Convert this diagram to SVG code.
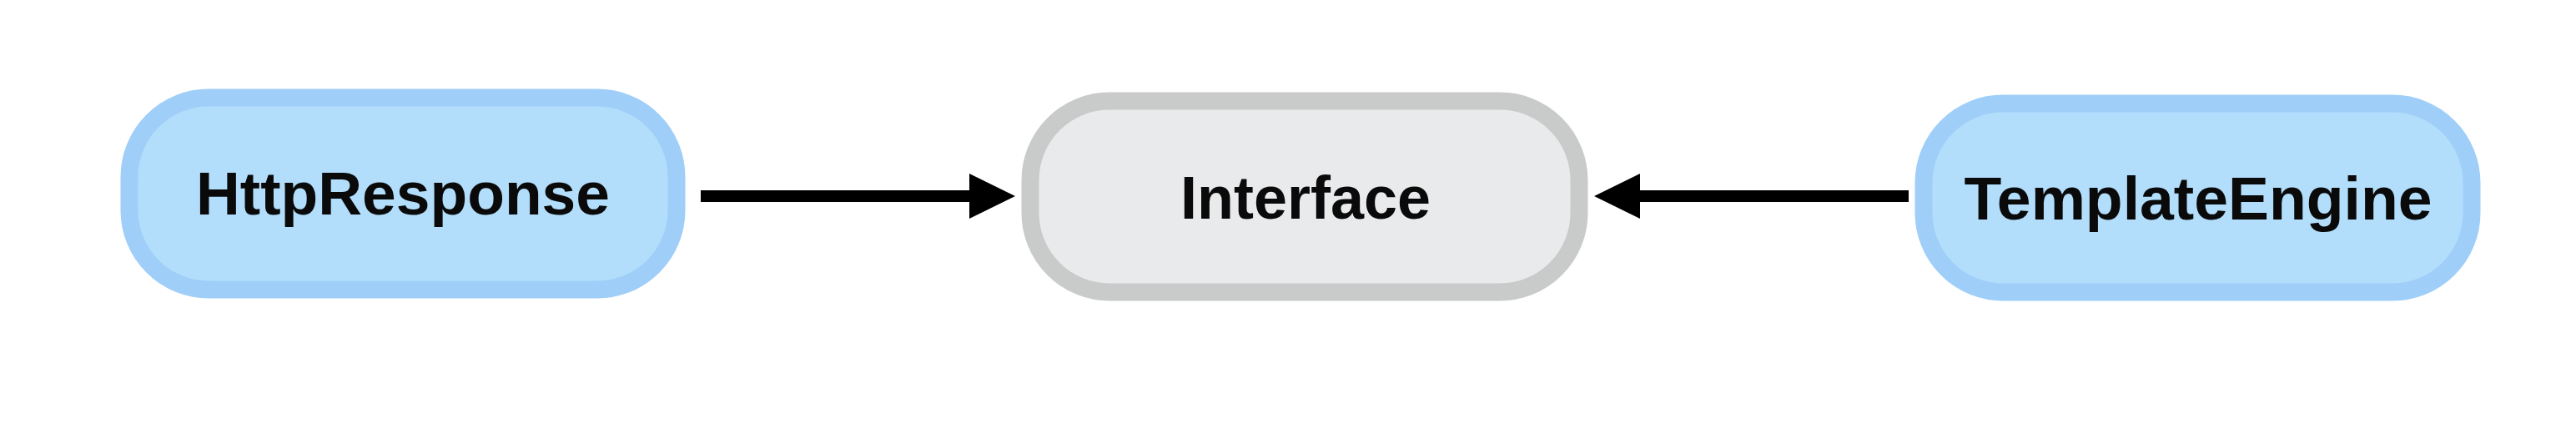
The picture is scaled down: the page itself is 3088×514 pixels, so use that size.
<svg xmlns="http://www.w3.org/2000/svg" width="3088" height="514" viewBox="0 0 3088 514">
<style>
.blue{fill:#b2defc;stroke:#9fcef8;stroke-width:21}
.gray{fill:#e9eaec;stroke:#c9caca;stroke-width:21}
.lbl{font-family:"Liberation Sans",Arial,Helvetica,sans-serif;font-weight:bold;font-size:73px;fill:#0a0a0a;text-anchor:middle}
.conn{stroke:#000;stroke-width:14;fill:none}
.head{fill:#000}
</style>
<rect x="0" y="0" width="3088" height="514" fill="#ffffff"/>
<g id="node-httpresponse">
<rect class="blue" x="155" y="117" width="656" height="230" rx="95" ry="95"/>
<text class="lbl" x="483" y="257" textLength="496" lengthAdjust="spacingAndGlyphs">HttpResponse</text>
</g>
<g id="node-interface">
<rect class="gray" x="1235" y="121" width="658" height="229" rx="95" ry="95"/>
<text class="lbl" x="1565" y="262" textLength="300" lengthAdjust="spacingAndGlyphs">Interface</text>
</g>
<g id="node-templateengine">
<rect class="blue" x="2306" y="124" width="657" height="226" rx="95" ry="95"/>
<text class="lbl" x="2635" y="263" textLength="561" lengthAdjust="spacingAndGlyphs">TemplateEngine</text>
</g>
<g id="connectors">
<line class="conn" x1="840" y1="235" x2="1165" y2="235"/>
<polygon class="head" points="1162,208 1217,235 1162,262"/>
<line class="conn" x1="2288" y1="235" x2="1963" y2="235"/>
<polygon class="head" points="1966,208 1911,235 1966,262"/>
</g>
</svg>
